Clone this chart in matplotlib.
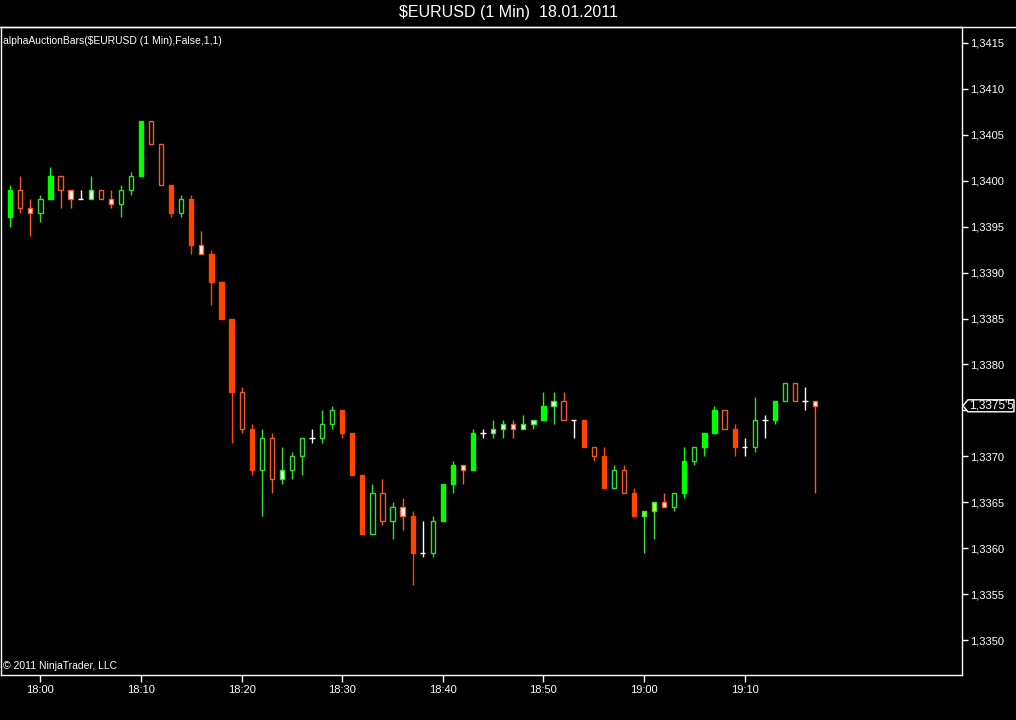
import matplotlib
matplotlib.use('Agg')
import matplotlib.pyplot as plt
import pandas as pd
from matplotlib.patches import Rectangle, Polygon
from matplotlib.lines import Line2D
from matplotlib.transforms import IdentityTransform

# 1 minute bars, $EURUSD 18.01.2011, first bar at 17:57
opens = [1.33960, 1.33990, 1.33970, 1.33965, 1.33980, 1.34005, 1.33990, 1.33980, 1.33980, 1.33990,
         1.33980, 1.33975, 1.33990, 1.34005, 1.34065, 1.34040, 1.33995, 1.33965, 1.33980, 1.33930,
         1.33920, 1.33890, 1.33850, 1.33770, 1.33730, 1.33685, 1.33720, 1.33675, 1.33685, 1.33700,
         1.33720, 1.33720, 1.33735, 1.33750, 1.33725, 1.33680, 1.33615, 1.33660, 1.33630, 1.33645,
         1.33635, 1.33595, 1.33595, 1.33630, 1.33670, 1.33690, 1.33685, 1.33725, 1.33725, 1.33730,
         1.33735, 1.33730, 1.33735, 1.33740, 1.33755, 1.33760, 1.33740, 1.33740, 1.33710, 1.33700,
         1.33665, 1.33685, 1.33660, 1.33635, 1.33640, 1.33650, 1.33645, 1.33660, 1.33695, 1.33710,
         1.33725, 1.33750, 1.33730, 1.33710, 1.33710, 1.33740, 1.33740, 1.33760, 1.33780, 1.33760,
         1.33760]
highs = [1.33995, 1.34005, 1.33980, 1.33985, 1.34015, 1.34005, 1.33990, 1.33990, 1.34005, 1.33990,
         1.33990, 1.33995, 1.34010, 1.34065, 1.34065, 1.34040, 1.33995, 1.33985, 1.33985, 1.33945,
         1.33925, 1.33890, 1.33850, 1.33775, 1.33735, 1.33730, 1.33725, 1.33710, 1.33705, 1.33720,
         1.33730, 1.33750, 1.33755, 1.33750, 1.33725, 1.33680, 1.33670, 1.33675, 1.33650, 1.33655,
         1.33640, 1.33630, 1.33635, 1.33670, 1.33695, 1.33690, 1.33730, 1.33730, 1.33740, 1.33740,
         1.33740, 1.33745, 1.33740, 1.33770, 1.33770, 1.33770, 1.33740, 1.33740, 1.33710, 1.33710,
         1.33690, 1.33690, 1.33665, 1.33640, 1.33650, 1.33660, 1.33660, 1.33710, 1.33710, 1.33725,
         1.33755, 1.33750, 1.33735, 1.33720, 1.33765, 1.33745, 1.33760, 1.33780, 1.33780, 1.33775,
         1.33760]
lows = [1.33950, 1.33965, 1.33940, 1.33955, 1.33980, 1.33970, 1.33970, 1.33980, 1.33980, 1.33980,
        1.33970, 1.33960, 1.33985, 1.34005, 1.34040, 1.33995, 1.33960, 1.33960, 1.33920, 1.33920,
        1.33865, 1.33850, 1.33715, 1.33725, 1.33680, 1.33635, 1.33660, 1.33670, 1.33675, 1.33680,
        1.33715, 1.33715, 1.33730, 1.33720, 1.33680, 1.33615, 1.33615, 1.33625, 1.33610, 1.33620,
        1.33560, 1.33590, 1.33590, 1.33630, 1.33660, 1.33670, 1.33685, 1.33720, 1.33720, 1.33720,
        1.33720, 1.33730, 1.33730, 1.33740, 1.33735, 1.33740, 1.33720, 1.33710, 1.33695, 1.33665,
        1.33665, 1.33660, 1.33635, 1.33595, 1.33610, 1.33645, 1.33640, 1.33655, 1.33690, 1.33700,
        1.33725, 1.33730, 1.33700, 1.33700, 1.33705, 1.33720, 1.33735, 1.33760, 1.33760, 1.33750,
        1.33660]
closes = [1.33990, 1.33970, 1.33965, 1.33980, 1.34005, 1.33990, 1.33980, 1.33980, 1.33990, 1.33980,
          1.33975, 1.33990, 1.34005, 1.34065, 1.34040, 1.33995, 1.33965, 1.33980, 1.33930, 1.33920,
          1.33890, 1.33850, 1.33770, 1.33730, 1.33685, 1.33720, 1.33675, 1.33685, 1.33700, 1.33720,
          1.33720, 1.33735, 1.33750, 1.33725, 1.33680, 1.33615, 1.33660, 1.33630, 1.33645, 1.33635,
          1.33595, 1.33595, 1.33630, 1.33670, 1.33690, 1.33685, 1.33725, 1.33725, 1.33730, 1.33735,
          1.33730, 1.33735, 1.33740, 1.33755, 1.33760, 1.33740, 1.33740, 1.33710, 1.33700, 1.33665,
          1.33685, 1.33660, 1.33635, 1.33640, 1.33650, 1.33645, 1.33660, 1.33695, 1.33710, 1.33725,
          1.33750, 1.33730, 1.33710, 1.33710, 1.33740, 1.33740, 1.33760, 1.33780, 1.33760, 1.33760,
          1.33755]
# bar type from alphaAuctionBars: G/R solid, g/r hollow, v/w white body, x doji, l/y light fills
bar_types = list("GrwgGrwxvr" "wggGrrRgRw" "RRRrRgrvgg" "xggRRRgrgw" "RxgGGwGxvv"
                 "wvvGvrxRrR" "grRlywgGgG" "GrRxgxGgrx" "w")

y_ticks = [1.3350 + 0.0005 * k for k in range(14)]
x_tick_labels = ['18:00', '18:10', '18:20', '18:30', '18:40', '18:50', '19:00', '19:10']

times = pd.date_range('2011-01-18 17:57', periods=len(opens), freq='min').strftime('%H:%M').tolist()

styles = {
    'G': dict(face='#00ff00', edge='#00ff00', wick='#00ff00'),
    'g': dict(face='black', edge='#32dc32', wick='#32dc32'),
    'R': dict(face='#ff4500', edge='#ff4500', wick='#ff4500'),
    'r': dict(face='black', edge='#f05a2a', wick='#f05a2a'),
    'w': dict(face='#ffffff', edge='#ff5a28', wick='#ff5a28'),
    'v': dict(face='#ecffec', edge='#3ce03c', wick='#3ce03c'),
    'l': dict(face='#80ff20', edge='#3ce03c', wick='#3ce03c'),
    'y': dict(face='#dcff10', edge='#3ce03c', wick='#3ce03c'),
}

W, H = 1016, 720
fig = plt.figure(figsize=(W / 100, H / 100), dpi=100, facecolor='black')
plt.rcParams['font.family'] = ['Liberation Sans', 'DejaVu Sans']

# plot area in pixels: x 1..962, y 27..675 (from top)
ax = fig.add_axes([1 / W, (H - 675) / H, 961 / W, 648 / H])
ax.set_facecolor('black')
ax.set_xlim(-0.915, 94.6)
ax.set_ylim(1.334619, 1.341674)

lw = 1.0
bw = 0.42
for i, (o, h, l, c, t) in enumerate(zip(opens, highs, lows, closes, bar_types)):
    if t == 'x':
        ax.vlines(i, l, h, color='white', lw=lw, zorder=2)
        ax.hlines(o, i - 0.27, i + 0.27, color='white', lw=lw, zorder=2)
        continue
    st = styles[t]
    ax.vlines(i, l, h, color=st['wick'], lw=lw, zorder=2)
    lo, hi = min(o, c), max(o, c)
    ax.add_patch(Rectangle((i - bw / 2, lo), bw, hi - lo, facecolor=st['face'],
                           edgecolor=st['edge'], lw=lw, zorder=3))

for s in ax.spines.values():
    s.set_color('white')
    s.set_linewidth(1.0)

ax.yaxis.tick_right()
ax.set_yticks(y_ticks)
# the 1,3375 label sits under the last price tag
ax.set_yticklabels(['' if abs(v - 1.3375) < 1e-6 else f"{v:.4f}".replace('.', ',') for v in y_ticks])
ax.tick_params(axis='y', colors='white', length=4, width=1.0, pad=2, labelsize=8)
ax.set_xticks([times.index(t) for t in x_tick_labels])
ax.set_xticklabels(x_tick_labels)
ax.tick_params(axis='x', colors='white', length=5, width=1.0, pad=2, labelsize=8)

# top separator across the whole window
fig.add_artist(Line2D([0, 1], [(H - 27) / H] * 2, color='white', lw=1.0))

fig.text(0.5, (H - 13) / H, '$EURUSD (1 Min)  18.01.2011', color='white', fontsize=11.5,
         ha='center', va='center')
fig.text(3 / W, (H - 41) / H, 'alphaAuctionBars($EURUSD (1 Min),False,1,1)', color='white',
         fontsize=7.5, ha='left', va='center')
fig.text(3 / W, (H - 666) / H, '\u00a9 2011 NinjaTrader, LLC', color='white',
         fontsize=7.5, ha='left', va='center')

# last price tag on the right axis
last = closes[-1]
yd = ax.transData.transform((0, last))[1]
xs = [963, 968, 1014, 1014, 968]
tag = Polygon([(xs[0], yd), (xs[1], yd + 6), (xs[2], yd + 6), (xs[3], yd - 6), (xs[4], yd - 6)],
              closed=True, facecolor='black', edgecolor='white', lw=1.0,
              transform=IdentityTransform(), zorder=10)
fig.add_artist(tag)
fig.text(991 / W, yd / H, "1,3375'5", color='white', fontsize=8.5, ha='center', va='center',
         zorder=11)

fig.savefig('out.png', dpi=100, facecolor='black')
